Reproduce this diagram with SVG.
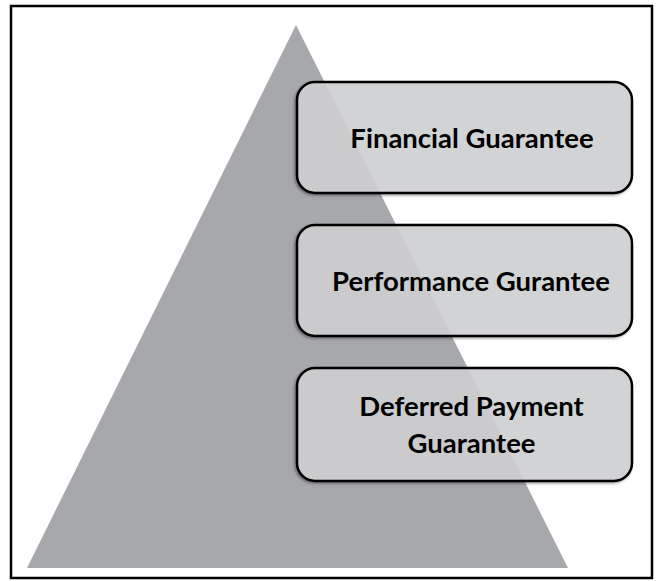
<svg xmlns="http://www.w3.org/2000/svg" width="661" height="581" viewBox="0 0 661 581">
<style>
.box{fill:#d2d3d5;fill-opacity:0.88;stroke:#000;stroke-width:2.5}
.lbl{font-family:Lato,"Open Sans","Liberation Sans",sans-serif;font-weight:bold;font-size:27.5px;fill:#000;text-anchor:middle}
</style>
<defs>
<filter id="sh" x="-10%" y="-10%" width="120%" height="120%">
<feDropShadow dx="-1.5" dy="1.5" stdDeviation="1" flood-color="#000" flood-opacity="0.35"/>
</filter>
</defs>
<rect x="0" y="0" width="661" height="581" fill="#fff"/>
<rect x="11" y="6" width="641" height="572" fill="#fff" stroke="#000" stroke-width="2.5"/>
<g id="pyramid">
<polygon points="296,25 27,568 568,568" fill="#a7a8ab"/>
</g>
<g id="connectors"></g>
<g id="n1">
<rect class="box" x="297" y="82" width="335" height="111" rx="18" filter="url(#sh)"/>
<text class="lbl" x="472" y="147.5">Financial Guarantee</text>
</g>
<g id="n2">
<rect class="box" x="297" y="225" width="335" height="111" rx="18" filter="url(#sh)"/>
<text class="lbl" x="471" y="290.5">Performance Gurantee</text>
</g>
<g id="n3">
<rect class="box" x="297" y="368" width="335" height="113" rx="18" filter="url(#sh)"/>
<text class="lbl" x="471.5" y="416">Deferred Payment</text>
<text class="lbl" x="471.5" y="453">Guarantee</text>
</g>
</svg>
